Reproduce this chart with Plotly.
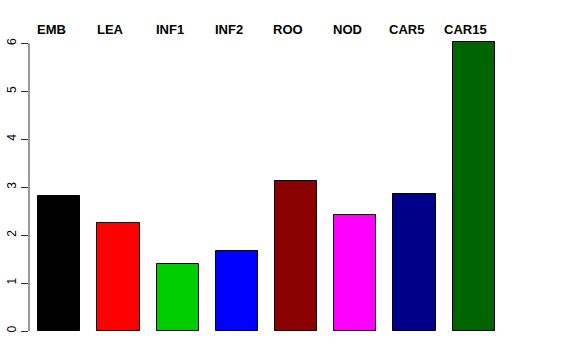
import plotly.graph_objects as go

categories = ["EMB", "LEA", "INF1", "INF2", "ROO", "NOD", "CAR5", "CAR15"]
values = [2.82, 2.26, 1.40, 1.67, 3.125, 2.41, 2.85, 6.02]
colors = ["#000000", "#FF0000", "#00CD00", "#0000FF", "#8B0000", "#FF00FF", "#00008B", "#006400"]
y_ticks = [0, 1, 2, 3, 4, 5, 6]

idx = list(range(len(categories)))

fig = go.Figure()
fig.add_trace(go.Bar(
    x=idx, y=values, width=0.71,
    marker=dict(color=colors, line=dict(color="black", width=1)),
    showlegend=False, hoverinfo="skip", cliponaxis=False,
))

for i, c in zip(idx, categories):
    fig.add_annotation(
        x=i - 0.135, y=1.0, xref="x", yref="paper", text="<b>%s</b>" % c,
        showarrow=False, xanchor="center", yanchor="middle",
        font=dict(family="Liberation Sans, Arial, sans-serif", size=13, color="black"),
    )

fig.add_shape(type="line", xref="paper", yref="y", x0=0, x1=0, y0=0, y1=6,
              line=dict(color="#333333", width=1))

fig.update_layout(
    width=576, height=360,
    margin=dict(l=29, r=72, t=29, b=29, pad=0, autoexpand=False),
    paper_bgcolor="white", plot_bgcolor="white",
    font=dict(family="Liberation Sans, Arial, sans-serif", size=12, color="black"),
    xaxis=dict(range=[-0.512, 7.512], showticklabels=False, showgrid=False,
               zeroline=False, showline=False, ticks="", automargin=False),
    yaxis=dict(range=[0, 6.3], tickvals=y_ticks, ticktext=[str(v) for v in y_ticks],
               tickangle=-90, ticks="outside", ticklen=7, tickcolor="#333333",
               showgrid=False, zeroline=False, showline=False, automargin=False,
               tickfont=dict(size=12)),
    bargap=0,
)

fig.write_html("out.html", config={"displayModeBar": False},
               post_script="document.body.style.margin='0';document.body.style.overflow='hidden';")
